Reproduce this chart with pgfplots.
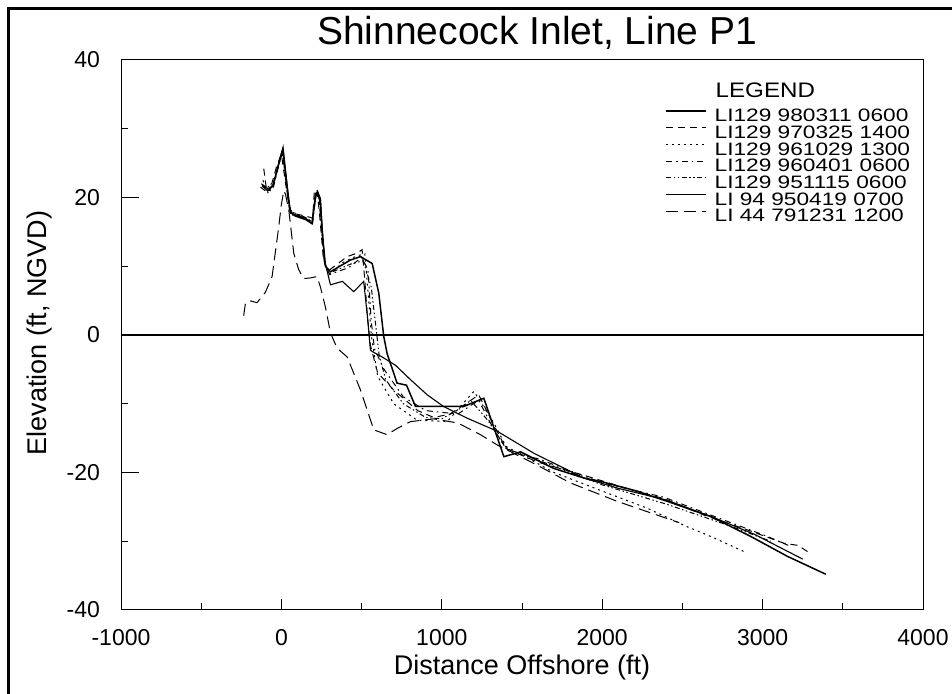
\documentclass[border=0pt]{standalone}
\usepackage{fontspec}
\setmainfont{Liberation Sans}
\usepackage{graphicx}
\usepackage{pgfplots}
\pgfplotsset{compat=1.18}
\begin{document}
\begin{tikzpicture}[x=1pt,y=1pt]
\useasboundingbox (0,0) rectangle (476,347);
\draw[line width=1.5pt] (4,0) -- (4,342.5) -- (476,342.5);
\begin{axis}[
  at={(60.5pt,42pt)}, anchor=south west,
  width=401pt, height=275pt, scale only axis,
  xmin=-1000, xmax=4000, ymin=-40, ymax=40,
  xtick={-1000,0,1000,2000,3000,4000}, ytick={-40,-20,0,20,40},
  minor xtick={-500,500,1500,2500,3500}, minor ytick={-30,-10,10,30},
  tick align=inside, tick pos=left,
  major tick length=5.5pt, minor tick length=3.5pt,
  axis line style={line width=0.5pt},
  every tick/.style={line width=0.5pt, black},
  ticklabel style={font=\fontsize{11.5}{13}\selectfont},
  /pgf/number format/assume math mode=true,
  /pgf/number format/1000 sep={},
  xticklabel style={yshift=-6pt},
  yticklabel style={xshift=-7pt},
  title={Shinnecock Inlet, Line P1},
  title style={at={([yshift=1.5pt]axis description cs:0.519,1)}, anchor=base, font=\fontsize{19.5}{22}\selectfont},
  xlabel={Distance Offshore (ft)},
  xlabel style={at={([yshift=-32.5pt]axis description cs:0.5,0)}, anchor=base, font=\fontsize{13.5}{16}\selectfont},
  ylabel={Elevation (ft, NGVD)},
  ylabel style={at={([xshift=-37pt]axis description cs:0,0.504)}, anchor=base, font=\fontsize{13.5}{16}\selectfont},
  legend cell align=left,
  legend image code/.code={\draw[#1] (0pt,3pt) -- (20pt,3pt);},
  legend style={at={(axis description cs:0.678,0.912)}, anchor=north west, draw=none, fill=none,
    inner sep=0pt, row sep=0pt, column sep=4pt, font=\fontsize{9}{10}\selectfont,
    nodes={inner sep=0pt, text height=6.5pt, text depth=1.83pt}},
]
\addplot[black, line width=0.6pt, forget plot] coordinates {(-1000,0) (4000,0)};
\draw[line width=0.5pt] (axis cs:-1000,20) -- ++(9pt,0pt);
\draw[line width=0.5pt] (axis cs:-1000,-20) -- ++(9pt,0pt);
\draw[line width=0.5pt] (axis cs:-1000,0) -- ++(9pt,0pt);

\addplot[black, line width=0.75pt] coordinates {
(-120,21.7) (-85,21.0) (-52,21.7) (-27,24) (-6,25.9) (10,27.2) (40,20.5) (56,17.9) (87,17.3) (150,16.8) (191,16.2) (212,20.0) (225,20.8) (243,19.5) (254,15) (275,10) (306,9.2) (430,10.9) (493,11.4) (566,10.4) (607,6.1) (638,-0.2) (659,-2.7) (721,-7) (780,-7.3) (836,-10.4) (1137,-10.4) (1262,-9.2) (1387,-17.7) (1491,-17) (1697,-19.4) (1885,-20.8) (1990,-21.3) (2200,-22.6) (2406,-24.2) (2676,-26.4) (2926,-29.3) (3155,-32.2) (3394,-34.8)};
\addlegendentry{\scalebox{1.26}[1]{LI129 980311 0600}}

\addplot[black, line width=0.5pt, dash pattern=on 3.5pt off 2.5pt] coordinates {
(-110,24.2) (-95,21.5) (-60,22) (-30,24.5) (0,26.3) (20,23) (50,18.3) (90,17.6) (150,17.3) (195,17) (205,20.8) (222,21.2) (240,17) (262,11) (290,9.3) (325,9.9) (410,11.4) (472,11.9) (503,12.4) (520,8) (535,3) (555,-1.5) (600,-5.5) (700,-8) (850,-11) (950,-12) (1050,-11.5) (1150,-10) (1230,-8.7) (1300,-12) (1400,-16.5) (1600,-18.5) (1900,-20.5) (2177,-22.5) (2385,-23.8) (2635,-26.2) (2900,-28.3) (3134,-30.3) (3220,-30.6) (3280,-31.5)};
\addlegendentry{\scalebox{1.26}[1]{LI129 970325 1400}}

\addplot[black, line width=0.5pt, dash pattern=on 1pt off 2pt] coordinates {
(-115,22.5) (-80,20.5) (-50,22) (-20,24.5) (5,26.5) (30,22) (55,18) (100,17.5) (190,16.5) (215,20.2) (235,20.5) (250,16.5) (270,10.5) (300,8.8) (380,10.5) (470,11.5) (520,11.8) (545,5) (560,0) (600,-6) (700,-10) (846,-12.4) (1034,-12.6) (1150,-9.5) (1200,-8.2) (1325,-12.8) (1400,-16.2) (1700,-20) (2000,-22.7) (2281,-25.2) (2531,-27.9) (2676,-29.3) (2884,-31.5)};
\addlegendentry{\scalebox{1.26}[1]{LI129 961029 1300}}

\addplot[black, line width=0.5pt, dash pattern=on 3pt off 2pt on 0.8pt off 2pt] coordinates {
(-130,21.5) (-90,20.8) (-50,21.5) (-25,23.8) (5,26.8) (35,21) (60,17.5) (150,17) (195,16.3) (215,20.5) (232,20.3) (250,15.5) (268,10.5) (300,8.8) (420,9.8) (500,11.3) (540,9.5) (560,2) (580,-2) (640,-5) (760,-9) (900,-11) (1100,-11.5) (1230,-9.5) (1330,-14) (1420,-17) (1600,-18) (2000,-21.5) (2385,-23.6) (2700,-26.4) (3030,-29.3) (3160,-30.6)};
\addlegendentry{\scalebox{1.26}[1]{LI129 960401 0600}}

\addplot[black, line width=0.5pt, dash pattern=on 2.5pt off 1.3pt on 0.7pt off 1.3pt on 0.7pt off 1.3pt] coordinates {
(-125,22) (-95,21.5) (-55,21.8) (-25,24.2) (8,27) (30,22.8) (55,18) (150,17.1) (190,16.5) (218,20.5) (235,20.2) (252,16) (272,10.2) (300,9) (430,10.3) (510,10.8) (560,7) (590,1) (610,-3) (650,-6.5) (760,-10) (900,-12) (1000,-12.2) (1130,-10.5) (1180,-9.5) (1290,-12.5) (1400,-16.5) (1600,-18.2) (2000,-21.8) (2400,-24.6) (2800,-27.8) (3050,-30)};
\addlegendentry{\scalebox{1.26}[1]{LI129 951115 0600}}

\addplot[black, line width=0.55pt] coordinates {
(-120,21.8) (-85,21.3) (-52,21.7) (-25,24.2) (10,26.8) (40,21) (56,17.7) (150,17) (191,16.2) (212,20.6) (227,20.8) (243,19.9) (254,15.8) (268,10.9) (306,7.3) (380,7.8) (451,6.3) (513,7.8) (535,3) (555,-2.2) (566,-2.4) (628,-3.2) (711,-4.4) (805,-6.5) (909,-8.7) (1011,-10.4) (1158,-12.1) (1346,-14) (1574,-17.2) (1885,-20.8) (2100,-22.3) (2400,-24) (2700,-26.6) (2950,-29) (3250,-32.6)};
\addlegendentry{\scalebox{1.26}[1]{LI 94 950419 0700}}

\addplot[black, line width=0.5pt, dash pattern=on 6pt off 3pt] coordinates {
(-235,2.8) (-225,4.5) (-200,5) (-152,4.7) (-100,6.2) (-58,8.5) (-19,15.3) (0,19) (15,21) (25,20.5) (46,18.2) (77,11.9) (108,9.5) (138,8.2) (180,8.3) (222,8.5) (243,7) (275,4) (306,0.3) (347,-1.9) (410,-3.2) (493,-8) (576,-13.8) (659,-14.5) (721,-13.6) (805,-12.6) (950,-12.2) (1100,-12.8) (1241,-14.5) (1346,-16) (1600,-19) (1800,-21.5) (2094,-24.2) (2281,-25.7) (2480,-27.3)};
\addlegendentry{\scalebox{1.26}[1]{LI 44 791231 1200}}

\node[anchor=base west, inner sep=0pt, font=\fontsize{10.5}{12}\selectfont] at (axis description cs:0.741,0.9327) {\scalebox{1.15}[1]{LEGEND}};
\end{axis}
\end{tikzpicture}
\end{document}
